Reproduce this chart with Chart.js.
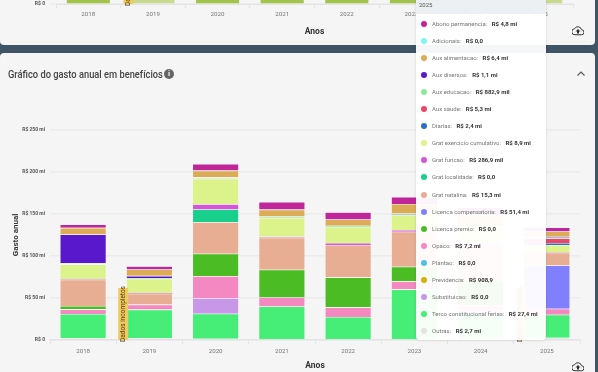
<!DOCTYPE html>
<html lang="pt-BR">
<head>
<meta charset="utf-8">
<title>Gráfico do gasto anual em benefícios</title>
<script src="https://cdn.jsdelivr.net/npm/chart.js@4"></script>
<style>
  html, body { margin: 0; width: 598px; height: 372px; overflow: hidden; background: #3f5566; font-family: Roboto, sans-serif; }
  .card { position: absolute; left: 0; width: 595px; background: #f5f5f5; overflow: hidden; }
  #topCard { top: -10px; height: 55px; border-radius: 0 0 4px 4px; }
  #mainCard { top: 53px; height: 319px; border-radius: 4px 4px 0 0; }
  canvas { position: absolute; left: 0; }
  #title { position: absolute; left: 8px; top: 67px; font-size: 11.5px; font-weight: 500; color: #444; transform: scaleX(0.81); transform-origin: left; white-space: nowrap; }
  #info { position: absolute; left: 164px; top: 69px; width: 10px; height: 10px; border-radius: 50%; background: #666; color: #f5f5f5; font: bold 8px/10px Roboto, sans-serif; text-align: center; }
  .icon { position: absolute; }
  #tooltip { position: absolute; left: 416px; top: 0; width: 130px; height: 340px; background: rgba(255,255,255,0.95); border-radius: 0 0 4px 4px; box-shadow: 0 0 3px rgba(0,0,0,.15); font-size: 6px; color: #777; }
  #tooltipHead { height: 14px; padding-left: 3px; line-height: 10px; background: rgba(236,239,241,.95); color: #555; }
  .row { position: absolute; left: 5px; height: 10px; line-height: 10px; white-space: nowrap; }
  .dot { display: inline-block; width: 6px; height: 6px; border-radius: 50%; margin-right: 5px; vertical-align: -1px; }
  .row b { margin-left: 3px; color: #333; font-weight: 700; }
</style>
</head>
<body>
<div id="topCard" class="card"><canvas id="topChart"></canvas></div>
<div id="mainCard" class="card"></div>
<canvas id="gastoChart"></canvas>
<div id="title">Gráfico do gasto anual em benefícios</div>
<div id="info">i</div>
<svg class="icon" style="left:575px;top:68px" width="12" height="12" viewBox="0 0 12 12"><path d="M2.5 7.5 6 4l3.5 3.5" fill="none" stroke="#555" stroke-width="1.1"/></svg>
<svg class="icon" style="left:572px;top:25px" width="12" height="11" viewBox="0 0 24 22"><path d="M19 9.5A7.500 7.500 0 0 0 5 7.5 6 6 0 0 0 6 19.500h13a5 5 0 0 0 0-10z" fill="none" stroke="#333" stroke-width="2"/><path d="M12 8l5 5h-3v4h-4v-4H7z" fill="#333"/></svg>
<svg class="icon" style="left:572px;top:361px" width="12" height="11" viewBox="0 0 24 22"><path d="M19 9.5A7.500 7.500 0 0 0 5 7.5 6 6 0 0 0 6 19.500h13a5 5 0 0 0 0-10z" fill="none" stroke="#333" stroke-width="2"/><path d="M12 8l5 5h-3v4h-4v-4H7z" fill="#333"/></svg>
<div id="tooltip"><div id="tooltipHead">2025</div></div>

<script>
// Categories
const anos = ['2018', '2019', '2020', '2021', '2022', '2023', '2024', '2025'];
const anosIncompletos = ['2019', '2025'];
const yTicks = [0, 50, 100, 150, 200, 250];

// Gasto anual total do grafico de cima (so a base aparece)
const gastoTotal = [700, 420, 760, 640, 680, 720, 750, 380];

// Beneficios, R$ milhoes por ano
const outras = [2.4, 2.5, 1.5, 1, 1, 1, 1.5, 2.7];
const terco = [28.6, 33.7, 29.8, 39, 26.4, 59.3, 30, 27.4];
const substituicao = [0, 0, 18.6, 0, 0, 0, 0, 0];
const previdencia = [0, 0, 0, 0, 0, 0, 0, 0.0009];
const plantao = [0, 0, 0, 0, 0, 0, 0, 0];
const opaco = [5.5, 6, 26.2, 10.7, 11.5, 9.5, 10, 7.2];
const premio = [4, 0, 26.6, 33, 35.7, 17.5, 30, 0];
const compensatoria = [0, 0, 0, 0, 0, 0, 0, 51.4];
const natalina = [31.3, 13, 37.7, 38, 38.5, 41.7, 42, 15.3];
const localidade = [0, 0, 15, 0, 0, 0, 0, 0];
const funcao = [0.8, 0.5, 6.3, 1.2, 2.4, 2, 2, 0.29];
const exercicio = [17.5, 17, 30.5, 22.6, 19, 18, 20, 8.9];
const diarias = [0, 0, 0, 0, 0, 0.5, 0.5, 2.4];
const saude = [0, 0, 0, 0, 0, 0, 0, 5.3];
const educacao = [1.5, 1, 1.5, 1.5, 1.5, 1, 1, 0.88];
const diversos = [34, 2.7, 0, 0, 0, 0, 0, 1.1];
const alimentacao = [8, 7.5, 8, 8.3, 7.5, 11.5, 12, 6.4];
const adicionais = [0, 0, 0, 0, 0, 0, 0, 0];
const abono = [4, 4, 8, 9, 8.7, 8.3, 9, 4.8];

// Tooltip of 2025, listed in the same order the tooltip shows
const nomes = ['Abono permanencia', 'Adicionais', 'Aux alimentacao', 'Aux diversos', 'Aux educacao', 'Aux saude', 'Diarias', 'Grat exercicio cumulativo', 'Grat funcao', 'Grat localidade', 'Grat natalina', 'Licenca compensatoria', 'Licenca premio', 'Opaco', 'Plantao', 'Previdencia', 'Substituicao', 'Terco constitucional ferias', 'Outras'];
const valores2025 = ['R$ 4,8 mi', 'R$ 0,0', 'R$ 6,4 mi', 'R$ 1,1 mi', 'R$ 882,9 mil', 'R$ 5,3 mi', 'R$ 2,4 mi', 'R$ 8,9 mi', 'R$ 286,9 mil', 'R$ 0,0', 'R$ 15,3 mi', 'R$ 51,4 mi', 'R$ 0,0', 'R$ 7,2 mi', 'R$ 0,0', 'R$ 908,9', 'R$ 0,0', 'R$ 27,4 mi', 'R$ 2,7 mi'];
const cores = ['#c0259a', '#7ff5ef', '#dcab55', '#5a18cc', '#8ee89a', '#ee4466', '#2a70c8', '#dcf28a', '#d455d8', '#18d08c', '#e8ae94', '#8080ff', '#4cbc24', '#f488c0', '#50c0e8', '#d4b010', '#c898e8', '#46ee78', '#e2e4e2'];
const series = [abono, adicionais, alimentacao, diversos, educacao, saude, diarias, exercicio, funcao, localidade, natalina, compensatoria, premio, opaco, plantao, previdencia, substituicao, terco, outras];

// Draws the yellow "Dados incompletos" flag beside the incomplete years
const dadosIncompletos = {
    id: 'dadosIncompletos',
    afterDatasetsDraw(chart, args, opts) {
        const { ctx, scales } = chart;
        anosIncompletos.forEach(ano => {
            const cx = scales.x.getPixelForValue(anos.indexOf(ano)) - opts.barHalf - 3;
            const base = scales.y.getPixelForValue(0);
            ctx.save();
            ctx.fillStyle = '#f2c95c';
            ctx.beginPath();
            ctx.roundRect(cx - 5, base - 52, 10, 52, 1);
            ctx.fill();
            ctx.translate(cx, base - 26);
            ctx.rotate(-Math.PI / 2);
            ctx.fillStyle = '#4a4020';
            ctx.font = '6.5px Roboto';
            ctx.textAlign = 'center';
            ctx.textBaseline = 'middle';
            ctx.fillText('Dados incompletos', 0, 0);
            ctx.restore();
        });
    }
};

function tickFont() {
    return { family: 'Roboto', size: 5, weight: 'bold' };
}

// Top chart, only its bottom edge is on screen
const topCanvas = document.getElementById('topChart');
topCanvas.style.top = '-86px';
topCanvas.width = 598;
topCanvas.height = 140;
new Chart(topCanvas, {
    type: 'bar',
    data: {
        labels: anos,
        datasets: [{
            data: gastoTotal,
            backgroundColor: anos.map(a => anosIncompletos.includes(a) ? '#c9da90' : '#a2c44a'),
            barPercentage: 0.667,
            categoryPercentage: 1
        }]
    },
    options: {
        responsive: false,
        animation: false,
        layout: { padding: { left: 0, right: 25, top: 0, bottom: 0 } },
        plugins: { legend: { display: false }, tooltip: { enabled: false }, dadosIncompletos: { barHalf: 21.5 } },
        scales: {
            x: {
                afterFit: s => { s.height = 40; },
                grid: { drawOnChartArea: false, color: '#e4e4e4', tickLength: 4 },
                border: { color: '#e4e4e4' },
                ticks: { color: '#777', font: { family: 'Roboto', size: 6.2 }, padding: 3 },
                title: { display: true, text: 'Anos', color: '#333', font: { family: 'Roboto', size: 8.5, weight: 'bold' }, padding: { top: 0, bottom: 7 } }
            },
            y: {
                min: 0,
                max: 800,
                afterFit: s => { s.width = 56; },
                grid: { color: '#ececec', lineWidth: 1.5, tickLength: 6 },
                border: { display: false },
                ticks: { stepSize: 200, color: '#555', font: tickFont(), padding: 5, callback: v => v === 0 ? 'R$ 0' : 'R$ ' + v + ' mi' }
            }
        }
    },
    plugins: [dadosIncompletos]
});

// Main stacked chart, Outras at the bottom
const gastoCanvas = document.getElementById('gastoChart');
gastoCanvas.style.top = '0';
gastoCanvas.width = 598;
gastoCanvas.height = 372;
new Chart(gastoCanvas, {
    type: 'bar',
    data: {
        labels: anos,
        datasets: series.map((valores, i) => ({
            label: nomes[i],
            data: valores,
            backgroundColor: cores[i],
            borderColor: 'rgba(255,255,255,0.35)',
            borderWidth: valores.map(v => v > 0.5 ? 0.6 : 0),
            barPercentage: 0.7,
            categoryPercentage: 1
        })).reverse()
    },
    options: {
        responsive: false,
        animation: false,
        layout: { padding: { left: 0, right: 18, top: 130, bottom: 0 } },
        plugins: { legend: { display: false }, tooltip: { enabled: false }, dadosIncompletos: { barHalf: 23.2 } },
        scales: {
            x: {
                stacked: true,
                afterFit: s => { s.height = 32; },
                grid: { drawOnChartArea: false, color: '#e4e4e4', tickLength: 4 },
                border: { color: '#e4e4e4', width: 1.5 },
                ticks: { color: '#777', font: { family: 'Roboto', size: 6.2 }, padding: 4 },
                title: { display: true, text: 'Anos', color: '#333', font: { family: 'Roboto', size: 8.5, weight: 'bold' }, padding: { top: 0, bottom: 1 } }
            },
            y: {
                stacked: true,
                min: 0,
                max: 250,
                afterFit: s => { s.width = 50; },
                afterBuildTicks: s => { s.ticks = yTicks.map(v => ({ value: v })); },
                grid: { color: '#ececec', lineWidth: 1.5, drawTicks: false },
                border: { display: false },
                ticks: { color: '#555', font: tickFont(), padding: 5, callback: v => v === 0 ? 'R$ 0' : 'R$ ' + v + ' mi' },
                title: { display: true, text: 'Gasto anual', color: '#333', font: { family: 'Roboto', size: 8, weight: 'bold' }, padding: { top: 11, bottom: 0 } }
            }
        }
    },
    plugins: [dadosIncompletos]
});

// Tooltip of the hovered year, kept as html text
const tooltip = document.getElementById('tooltip');
nomes.forEach((nome, i) => {
    const row = document.createElement('div');
    row.className = 'row';
    row.style.top = (19 + i * 17.05) + 'px';
    row.innerHTML = `<span class="dot" style="background:${cores[i]}"></span>${nome}: <b>${valores2025[i]}</b>`;
    tooltip.appendChild(row);
});
</script>
</body>
</html>
